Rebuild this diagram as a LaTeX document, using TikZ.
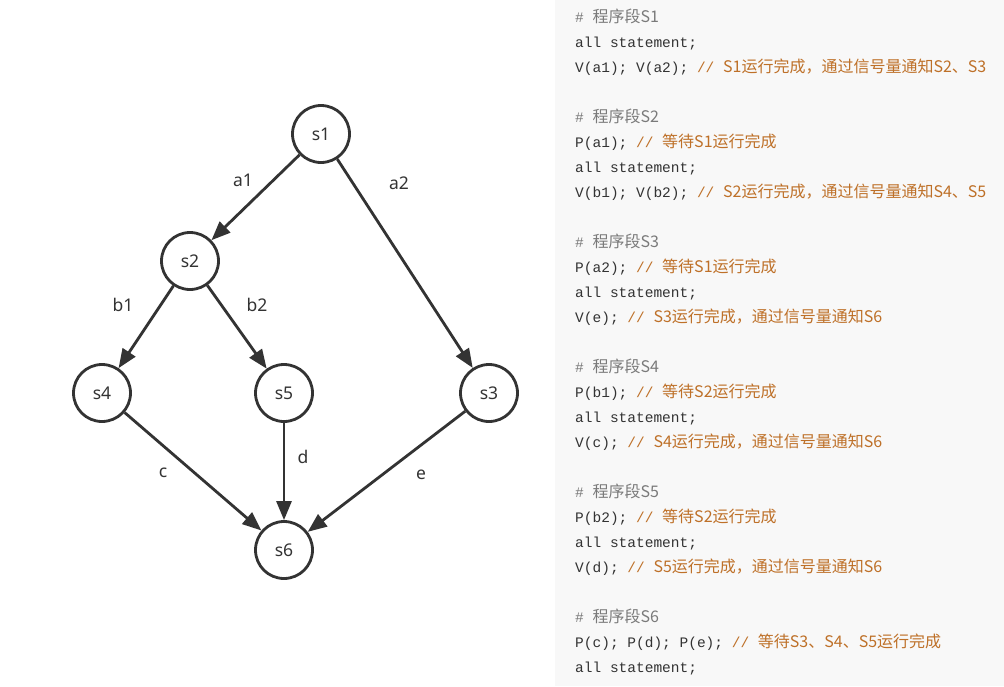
\documentclass[tikz,border=0pt]{standalone}
\usepackage{fontspec}
\setmainfont{Noto Sans}
\newfontfamily\cjk{Noto Sans CJK SC}
\newfontfamily\mono{Liberation Mono}
\usetikzlibrary{arrows.meta}
\definecolor{ink}{HTML}{333333}
\definecolor{panel}{HTML}{F8F8F8}
\definecolor{cmt}{RGB}{190,112,40}
\definecolor{hdr}{HTML}{7A7A7A}
\newcommand{\cm}[1]{{\color{cmt}// {\cjk\fontsize{16}{16}\selectfont #1}}}
\newcommand{\hd}[1]{{\color{hdr}\# {\cjk\fontsize{16}{16}\selectfont #1}}}
\begin{document}
\begin{tikzpicture}[x=1pt,y=-1pt,
  state/.style={circle,draw=ink,line width=2.8pt,minimum size=57pt,inner sep=0pt,
    font=\fontsize{17.5}{17.5}\selectfont,text=ink},
  edge/.style={draw=ink,line width=2.8pt,-{Triangle[length=19pt,width=15pt]}},
  lbl/.style={font=\fontsize{17.5}{17.5}\selectfont,text=ink,inner sep=0pt},
  code/.style={anchor=base west,inner sep=0pt,font=\mono\fontsize{14.5}{14.5}\selectfont,text=ink}]
\useasboundingbox (0,0) rectangle (1004,686);
\fill[white] (0,0) rectangle (555,686);
\fill[panel] (555,0) rectangle (1004,686);
% graph
\node[state] (s1) at (321,134) {s1};
\node[state] (s2) at (190,261) {s2};
\node[state] (s4) at (102,393) {s4};
\node[state] (s5) at (284,393) {s5};
\node[state] (s3) at (489,393) {s3};
\node[state] (s6) at (284,550) {s6};
\draw[edge] (s1) -- (s2);
\draw[edge] (s1) -- (s3);
\draw[edge] (s2) -- (s4);
\draw[edge] (s2) -- (s5);
\draw[edge] (s4) -- (s6);
\draw[edge] (s5) -- (s6);
\draw[edge] (s3) -- (s6);
\node[lbl] (la1) at (243,180) {a1};
\node[lbl] (la2) at (399,183) {a2};
\node[lbl] (lb1) at (123,305) {b1};
\node[lbl] (lb2) at (257,305) {b2};
\node[lbl] (lc) at (163,473) {c};
\node[lbl] (ld) at (303,457) {d};
\node[lbl] (le) at (421,475) {e};
% code
\node[code] (t1) at (575,22) {\hd{程序段S1}};
\node[code] (t2) at (575,47) {all statement;};
\node[code] (t3) at (575,72) {V(a1); V(a2); \cm{S1运行完成，通过信号量通知S2、S3}};
\node[code] (t4) at (575,122) {\hd{程序段S2}};
\node[code] (t5) at (575,147) {P(a1); \cm{等待S1运行完成}};
\node[code] (t6) at (575,172) {all statement;};
\node[code] (t7) at (575,197) {V(b1); V(b2); \cm{S2运行完成，通过信号量通知S4、S5}};
\node[code] (t8) at (575,247) {\hd{程序段S3}};
\node[code] (t9) at (575,272) {P(a2); \cm{等待S1运行完成}};
\node[code] (t10) at (575,297) {all statement;};
\node[code] (t11) at (575,322) {V(e); \cm{S3运行完成，通过信号量通知S6}};
\node[code] (t12) at (575,372) {\hd{程序段S4}};
\node[code] (t13) at (575,397) {P(b1); \cm{等待S2运行完成}};
\node[code] (t14) at (575,422) {all statement;};
\node[code] (t15) at (575,447) {V(c); \cm{S4运行完成，通过信号量通知S6}};
\node[code] (t16) at (575,497) {\hd{程序段S5}};
\node[code] (t17) at (575,522) {P(b2); \cm{等待S2运行完成}};
\node[code] (t18) at (575,547) {all statement;};
\node[code] (t19) at (575,572) {V(d); \cm{S5运行完成，通过信号量通知S6}};
\node[code] (t20) at (575,622) {\hd{程序段S6}};
\node[code] (t21) at (575,647) {P(c); P(d); P(e); \cm{等待S3、S4、S5运行完成}};
\node[code] (t22) at (575,672) {all statement;};
\end{tikzpicture}
\end{document}
